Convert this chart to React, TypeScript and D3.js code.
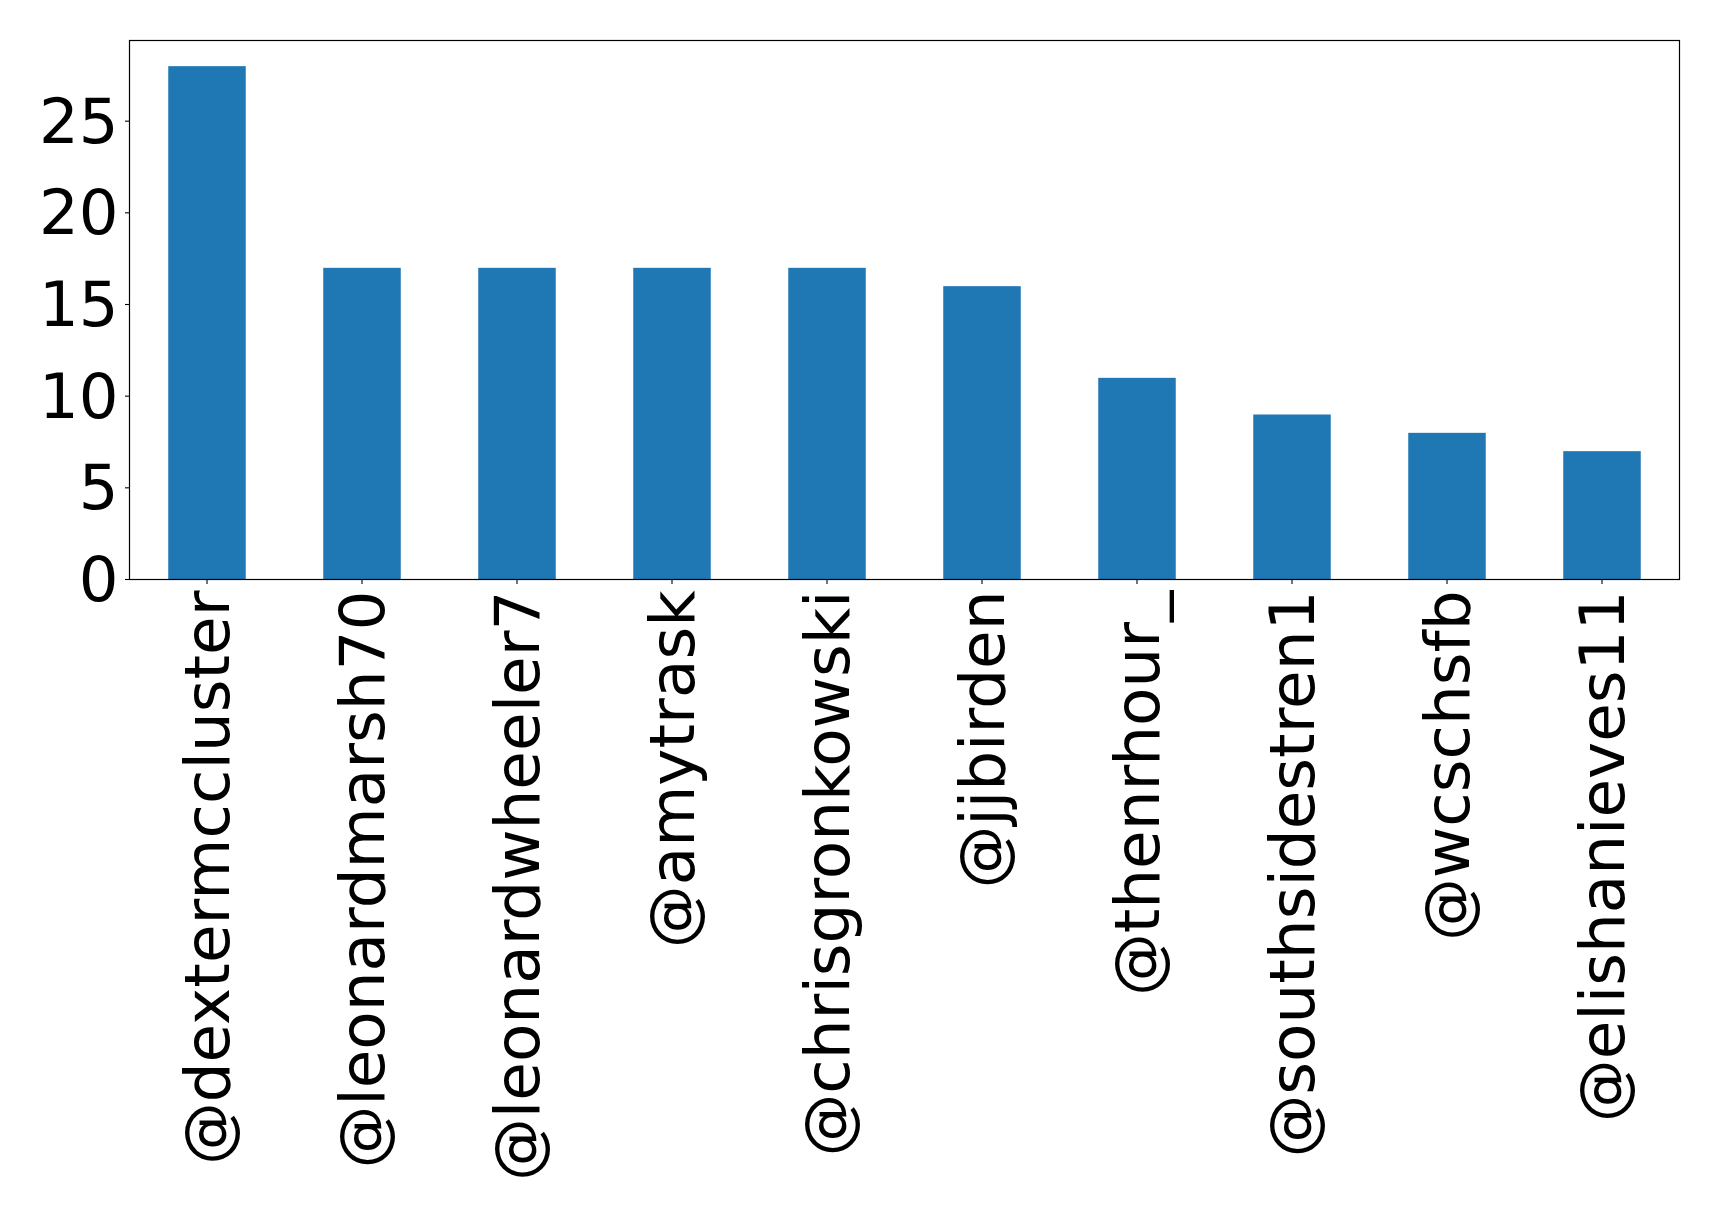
import React from "react";
import * as d3 from "d3";

const categories = [
  "@dextermccluster",
  "@leonardmarsh70",
  "@leonardwheeler7",
  "@amytrask",
  "@chrisgronkowski",
  "@jjbirden",
  "@thenrhour_",
  "@southsidestren1",
  "@wcschsfb",
  "@elishanieves11",
];
const values = [28, 17, 17, 17, 17, 16, 11, 9, 8, 7];
const yTicks = [0, 5, 10, 15, 20, 25];

const W = 1719;
const H = 1216;
const left = 129.5;
const right = 1679.5;
const top = 40.5;
const bottom = 579.5;

export default function App() {
  const x = d3
    .scaleLinear()
    .domain([-0.5, categories.length - 0.5])
    .range([left, right]);
  const y = d3
    .scaleLinear()
    .domain([0, d3.max(values)! * 1.05])
    .range([bottom, top]);
  const bw = x(0.25) - x(-0.25);
  const font = "'DejaVu Sans', sans-serif";
  return (
    <svg
      width={W}
      height={H}
      style={{ position: "absolute", left: 0, top: 0, background: "#fff" }}
    >
      <rect x={0} y={0} width={W} height={H} fill="#fff" />
      {values.map((v, i) => (
        <rect
          key={i}
          x={x(i) - bw / 2}
          y={y(v)}
          width={bw}
          height={y(0) - y(v)}
          fill="#1f77b4"
        />
      ))}
      <rect
        x={left}
        y={top}
        width={right - left}
        height={bottom - top}
        fill="none"
        stroke="#000"
        strokeWidth={1.2}
      />
      {yTicks.map((t) => (
        <g key={t}>
          <line x1={left - 4.5} x2={left} y1={y(t)} y2={y(t)} stroke="#000" strokeWidth={1.1} />
          <text
            x={left - 11}
            y={y(t)}
            textAnchor="end"
            dominantBaseline="central"
            fontFamily={font}
            fontSize={62.5}
            fill="#000"
          >
            {t}
          </text>
        </g>
      ))}
      {categories.map((c, i) => (
        <g key={c}>
          <line x1={x(i)} x2={x(i)} y1={bottom} y2={bottom + 4.5} stroke="#000" strokeWidth={1.1} />
          <text
            transform={`translate(${x(i)},${bottom + 11}) rotate(-90)`}
            textAnchor="end"
            dominantBaseline="central"
            fontFamily={font}
            fontSize={62.8}
            fill="#000"
          >
            {c}
          </text>
        </g>
      ))}
    </svg>
  );
}
